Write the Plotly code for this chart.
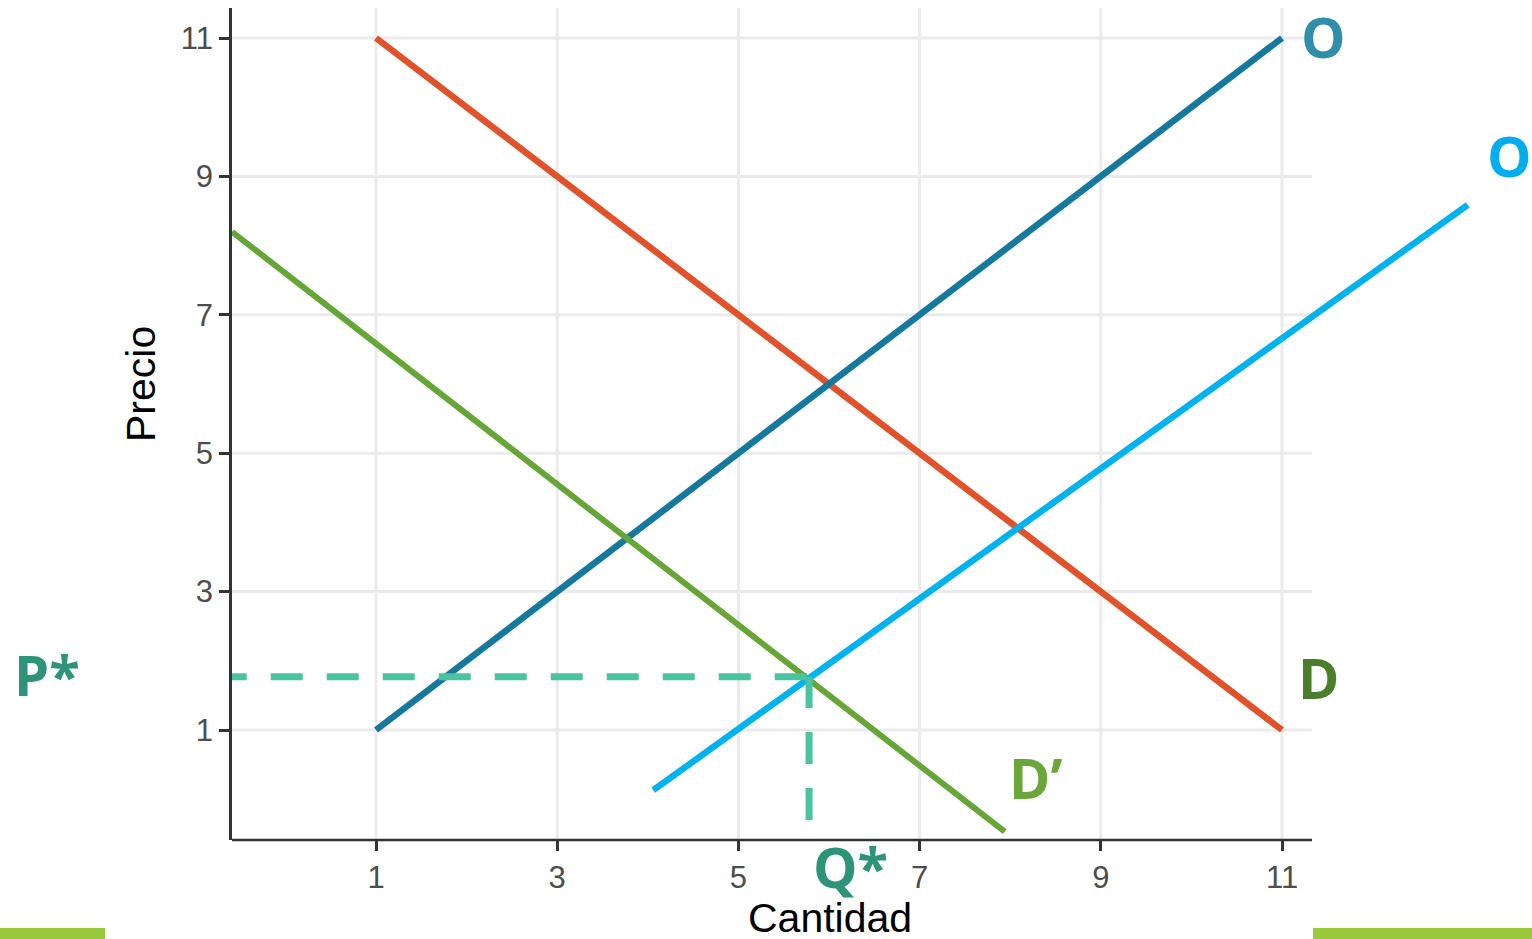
import plotly.graph_objects as go

# ---- data ----
tick_vals = [1, 3, 5, 7, 9, 11]
demand_x = [1, 11]
demand_y = [11, 1]
supply_x = [1, 11]
supply_y = [1, 11]
supply2_x = [4.06, 13.05]
supply2_y = [0.13, 8.59]
demand2_x = [-0.59, 7.94]
demand2_y = [8.20, -0.47]
p_star = 1.77
q_star = 5.78
dash_h_x = [-0.78, q_star]
dash_v_y = [-0.30, p_star]

x_range = [-0.5894, 13.759]
y_range = [-0.5896, 11.434]
x_plot_end = 11.331

W, H = 1532, 939
L, R, T, B = 232, 0, 8, 99
PW, PH = W - L - R, H - T - B


def px(xpix):
    return (xpix - L) / PW


def py(ypix):
    return (H - B - ypix) / PH


fig = go.Figure()

line_specs = [
    (demand_x, demand_y, "#E1522B", 6.5),
    (supply_x, supply_y, "#15799F", 6.5),
    (demand2_x, demand2_y, "#65A637", 6),
    (supply2_x, supply2_y, "#00B2EE", 6.5),
]
for xs, ys, col, w in line_specs:
    fig.add_trace(go.Scatter(x=xs, y=ys, mode="lines",
                             line=dict(color=col, width=w),
                             hoverinfo="skip", showlegend=False))

dash_col = "#4AC3A1"
fig.add_trace(go.Scatter(x=dash_h_x, y=[p_star, p_star], mode="lines",
                         line=dict(color=dash_col, width=7, dash="32px,24px"),
                         hoverinfo="skip", showlegend=False))
fig.add_trace(go.Scatter(x=[q_star, q_star], y=dash_v_y, mode="lines",
                         line=dict(color=dash_col, width=7, dash="32px,24px"),
                         hoverinfo="skip", showlegend=False))

shapes = []
grid_col = "#EBEBEB"
for v in tick_vals:
    shapes.append(dict(type="line", xref="x", yref="y", x0=v, x1=v,
                       y0=y_range[0], y1=y_range[1], layer="below",
                       line=dict(color=grid_col, width=3)))
    shapes.append(dict(type="line", xref="x", yref="y", x0=x_range[0], x1=x_plot_end,
                       y0=v, y1=v, layer="below",
                       line=dict(color=grid_col, width=3)))
# bottom axis line
shapes.append(dict(type="line", xref="x", yref="paper", x0=x_range[0], x1=x_plot_end,
                   y0=0, y1=0, layer="above", line=dict(color="#333333", width=2.5)))
# decorative green bars
bar_col = "#9ACA3C"
shapes.append(dict(type="rect", xref="paper", yref="paper", x0=px(0), x1=px(105),
                   y0=py(940), y1=py(928), line=dict(width=0), fillcolor=bar_col))
shapes.append(dict(type="rect", xref="paper", yref="paper", x0=px(1313), x1=px(1532),
                   y0=py(940), y1=py(928), line=dict(width=0), fillcolor=bar_col))

lab_font = "Open Sans, Noto Sans, sans-serif"
labels = [
    ("O", 1323, 36, "#2F8FA9"),
    ("O", 1509, 155, "#00AEEF"),
    ("D", 1318, 677, "#4A7E2B"),
    ("D’", 1036, 777, "#6AA738"),
    ("P*", 47, 674, "#2D9479"),
    ("Q*", 850, 866, "#2D9479"),
]
annotations = []
for txt, xx, yy, col in labels:
    annotations.append(dict(text="<b>" + txt + "</b>", xref="paper", yref="paper",
                            x=px(xx), y=py(yy), xanchor="center", yanchor="middle",
                            showarrow=False,
                            font=dict(family=lab_font, size=56, color=col)))

title_font = dict(family="Liberation Sans, Arial, sans-serif", size=41, color="#000000")
annotations.append(dict(text="Cantidad", xref="paper", yref="paper", x=px(829.5), y=py(918),
                        xanchor="center", yanchor="middle", showarrow=False, font=title_font))
annotations.append(dict(text="Precio", xref="paper", yref="paper", x=px(141), y=py(384),
                        xanchor="center", yanchor="middle", showarrow=False, textangle=-90,
                        font=title_font))

tick_font = dict(family="Liberation Sans, Arial, sans-serif", size=31, color="#4D4D4D")

fig.update_layout(
    width=W, height=H,
    margin=dict(l=L, r=R, t=T, b=B, pad=0),
    paper_bgcolor="white", plot_bgcolor="white",
    shapes=shapes, annotations=annotations,
    xaxis=dict(range=x_range, tickvals=tick_vals, ticktext=[str(v) for v in tick_vals],
               showgrid=False, zeroline=False, showline=False,
               ticks="outside", ticklen=10, tickwidth=3, tickcolor="#333333",
               tickfont=tick_font, fixedrange=True),
    yaxis=dict(range=y_range, tickvals=tick_vals, ticktext=[str(v) for v in tick_vals],
               showgrid=False, zeroline=False, showline=True, linecolor="#333333",
               linewidth=2.5, ticks="outside", ticklen=10, tickwidth=3,
               tickcolor="#333333", tickfont=tick_font, fixedrange=True),
)

fig.write_html(
    "out.html",
    config={"displayModeBar": False},
    post_script="document.body.style.margin='0';document.body.style.overflow='hidden';",
)
